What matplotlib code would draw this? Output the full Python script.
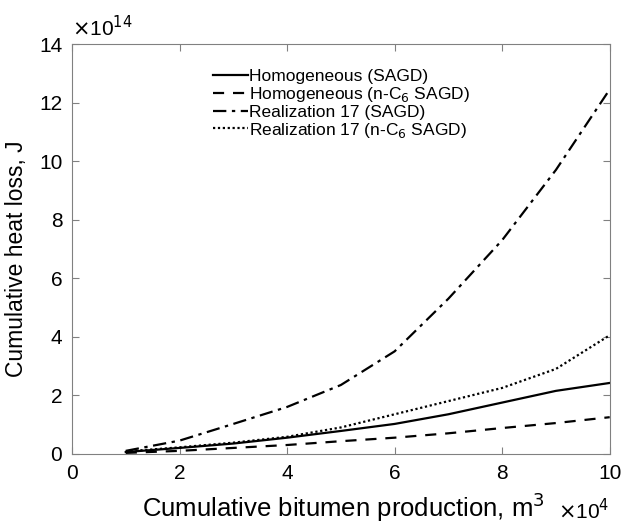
import matplotlib.pyplot as plt
import numpy as np

plt.rcParams['font.family'] = ['Liberation Sans', 'DejaVu Sans']

# bitumen production (x 1e4 m3) and cumulative heat loss (x 1e14 J)
prod = [1, 2, 3, 4, 5, 6, 7, 8, 9, 10]
homo_sagd = [0.06, 0.20, 0.35, 0.55, 0.78, 1.02, 1.35, 1.75, 2.15, 2.42]
homo_c6 = [0.03, 0.10, 0.20, 0.30, 0.43, 0.55, 0.70, 0.88, 1.05, 1.25]
real_sagd = [0.10, 0.45, 1.02, 1.60, 2.35, 3.50, 5.30, 7.30, 9.70, 12.45]
real_c6 = [0.08, 0.22, 0.38, 0.58, 0.90, 1.35, 1.80, 2.25, 2.90, 4.05]

labels = ['Homogeneous (SAGD)', 'Homogeneous (n-C$_6$ SAGD)',
          'Realization 17 (SAGD)', 'Realization 17 (n-C$_6$ SAGD)']

fig = plt.figure(figsize=(6.26, 5.24), dpi=100)
ax = fig.add_axes([0.115, 0.134, 0.859, 0.782])

ax.plot(prod, homo_sagd, color='black', lw=1.6, ls='-', label=labels[0])
ax.plot(prod, homo_c6, color='black', lw=1.6, ls=(0, (5, 4)), label=labels[1])
ax.plot(prod, real_sagd, color='black', lw=1.6, ls=(0, (6, 2.5, 1.5, 2.5)), label=labels[2])
ax.plot(prod, real_c6, color='black', lw=1.6, ls=(0, (1, 1.2)), label=labels[3])

ax.set_xlim(0, 10)
ax.set_ylim(0, 14)
ax.set_xticks([0, 2, 4, 6, 8, 10])
ax.set_yticks([0, 2, 4, 6, 8, 10, 12, 14])
ax.tick_params(direction='in', top=True, right=True, labelsize=15,
               color='#808080', length=5, pad=7)
for s in ax.spines.values():
    s.set_color('#808080')

ax.set_xlabel('Cumulative bitumen production, m$^3$', fontsize=18.5, labelpad=6)
ax.set_ylabel('Cumulative heat loss, J', fontsize=16.5, labelpad=8)
ax.xaxis.label.set_x(0.505)
ax.yaxis.label.set_y(0.475)

ax.text(0.0, 1.01, r'$\times$10$^{14}$', transform=ax.transAxes,
        fontsize=15, ha='left', va='bottom')
ax.text(1.0, -0.16, r'$\times$10$^{4}$', transform=ax.transAxes,
        fontsize=15, ha='right', va='baseline')

leg = ax.legend(loc='upper left', bbox_to_anchor=(0.262, 0.94), frameon=False,
                fontsize=12.5, handlelength=2.0, handletextpad=0.1,
                labelspacing=0.05, borderaxespad=0, borderpad=0)

fig.savefig('out.png', dpi=100)
